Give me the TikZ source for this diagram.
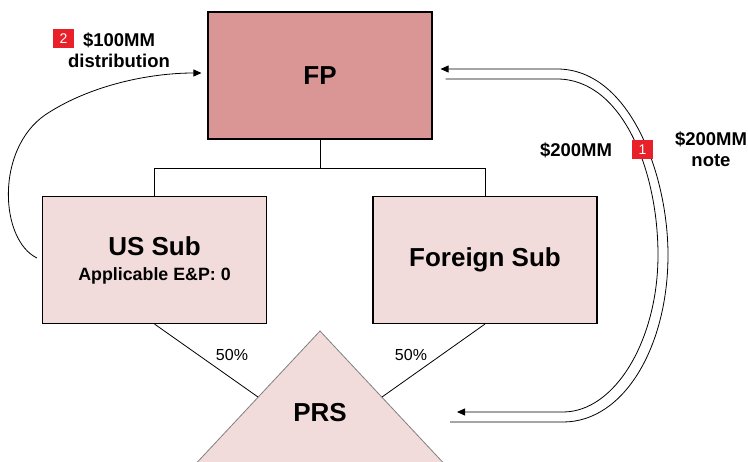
\documentclass[tikz,border=0pt]{standalone}
\usepackage{fontspec}
\setmainfont{Liberation Sans}
\usetikzlibrary{arrows.meta}
\definecolor{fpred}{HTML}{D99694}
\definecolor{subpink}{HTML}{F2DCDB}
\definecolor{badgered}{HTML}{E8202A}

\begin{document}
\begin{tikzpicture}[x=1pt,y=-1pt,
    entity/.style={draw=black, line width=1.1pt, inner sep=0pt,
      minimum width=224pt, minimum height=127pt, align=center,
      font=\fontsize{26}{26}\selectfont\bfseries},
    badge/.style={fill=badgered, text=white, inner sep=0pt,
      minimum width=21pt, minimum height=19pt,
      font=\fontsize{14}{14}\selectfont},
    amount/.style={align=center, font=\fontsize{18.5}{21}\selectfont\bfseries},
    share/.style={font=\fontsize{16}{16}\selectfont},
    flow/.style={line width=0.8pt, -{Triangle[length=8pt,width=7pt]}}]

      \useasboundingbox (0,0) rectangle (748,462);

      % parent and subs
      \node[entity, fill=fpred] (fp) at (320,75.5) {FP};
      \node[entity, fill=subpink] (ussub) at (154.5,260)
        {\raisebox{-2pt}{US Sub}\\[1pt]{\fontsize{17.8}{17.8}\selectfont Applicable E\&P: 0}};
      \node[entity, fill=subpink] (fsub) at (485,260) {\raisebox{-4pt}{Foreign Sub}};

      % ownership lines
      \coordinate (split) at (320,168);
      \draw[line width=0.8pt] (fp.south) -- (split);
      \draw[line width=0.8pt] (split) -| (ussub.north);
      \draw[line width=0.8pt] (split) -| (fsub.north);

      % partnership
      \fill[subpink] (320,331) -- (450,470) -- (190,470) -- cycle;
      \draw[gray, line width=0.8pt] (190,470) -- (320,331) -- (450,470);
      \node[font=\fontsize{26}{26}\selectfont\bfseries] (prs) at (320,413) {PRS};
      \coordinate (prsl) at (258,397);
      \coordinate (prsr) at (382,397);
      \draw[line width=0.8pt] (ussub.south) -- (prsl);
      \draw[line width=0.8pt] (fsub.south) -- (prsr);
      \node[share] (pctl) at (232,355) {50\%};
      \node[share] (pctr) at (411,355) {50\%};

      % step 2: distribution
      \draw[flow] ([xshift=-5pt,yshift=2pt]ussub.west)
        .. controls (0,240) and (-5,150) .. (45,115)
        .. controls (90,85) and (150,73) .. ([xshift=-6pt,yshift=2.5pt]fp.west);
      \node[badge] (two) at (63.5,39) {2};
      \node[amount] (dist) at (119,50.5) {\$100MM\\distribution};

      % step 1: note out, cash back
      \draw[flow] (450,422) -- (563,422)
        .. controls (625,422) and (668,345) .. (668,255)
        .. controls (668,175) and (630,69) .. (557,69)
        -- ([xshift=8pt,yshift=6.5pt]fp.east);
      \draw[flow] ([xshift=13pt,yshift=-3.5pt]fp.east) -- (557,79)
        .. controls (622,79) and (658,170) .. (658,255)
        .. controls (658,340) and (615,412) .. (563,412)
        -- (457,412);
      \node[badge] (one) at (642.5,150) {1};
      \node[amount] (cash) at (576,150) {\$200MM};
      \node[amount] (note) at (711,149.5) {\$200MM\\note};

\end{tikzpicture}
\end{document}
